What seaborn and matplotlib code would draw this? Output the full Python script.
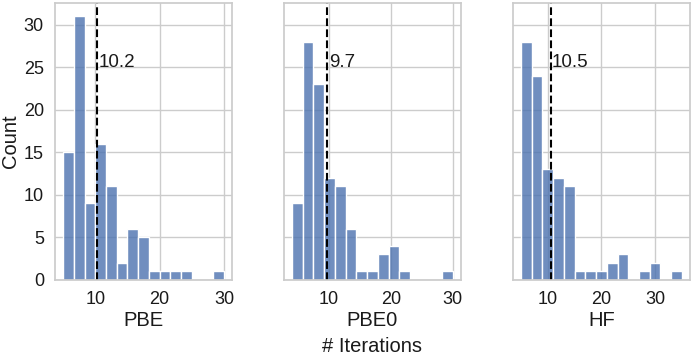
import matplotlib
matplotlib.use("Agg")
import matplotlib.pyplot as plt
import numpy as np
import pandas as pd
import seaborn as sns

# counts per bin (15 bins each)
methods = ["PBE", "PBE0", "HF"]
pbe_counts = [15, 31, 9, 16, 11, 2, 6, 5, 1, 1, 1, 1, 0, 0, 1]
pbe0_counts = [9, 28, 23, 12, 11, 6, 1, 1, 3, 4, 1, 0, 0, 0, 1]
hf_counts = [28, 24, 13, 12, 11, 1, 1, 1, 2, 3, 0, 1, 2, 0, 1]
bin_ranges = [(5, 30), (4, 30), (5, 35)]
means = [10.2, 9.7, 10.5]

sns.set_theme(style="whitegrid")
plt.rcParams["font.family"] = ["Liberation Sans", "DejaVu Sans"]
plt.rcParams["text.color"] = "#1a1a1a"
plt.rcParams["axes.labelcolor"] = "#1a1a1a"
plt.rcParams["xtick.color"] = "#1a1a1a"
plt.rcParams["ytick.color"] = "#1a1a1a"
plt.rcParams["axes.labelsize"] = 14.5
plt.rcParams["xtick.labelsize"] = 13
plt.rcParams["ytick.labelsize"] = 13

fig, axes = plt.subplots(1, 3, sharey=True, figsize=(6.92, 3.56), dpi=100)
fig.subplots_adjust(left=0.0795, right=0.997, top=0.992, bottom=0.2135, wspace=0.294)

all_counts = [pbe_counts, pbe0_counts, hf_counts]
for ax, name, counts, (lo, hi), m in zip(axes, methods, all_counts, bin_ranges, means):
    edges = np.linspace(lo, hi, len(counts) + 1)
    centers = (edges[:-1] + edges[1:]) / 2
    df = pd.DataFrame({"iters": centers, "n": counts})
    sns.histplot(data=df, x="iters", weights="n", bins=len(counts), binrange=(lo, hi),
                 ax=ax, color="#4c72b0", alpha=0.8, edgecolor="white", linewidth=1)
    ax.axvline(m, color="black", linestyle="--", linewidth=1.5)
    ax.text(m + 0.3, 25.6, f"{m}", va="center", ha="left", fontsize=13.5)
    ax.set_xlabel(name, labelpad=2)
    ax.set_xticks([10, 20, 30])
    ax.tick_params(axis="both", pad=2)

axes[0].set_ylabel("Count", labelpad=3)
axes[0].set_yticks([0, 5, 10, 15, 20, 25, 30])
for ax in axes[1:]:
    ax.set_ylabel("")

pos = axes[1].get_position()
fig.text((pos.x0 + pos.x1) / 2, 0.027, "# Iterations", ha="center", va="center", fontsize=14.5)

fig.savefig("out.png", dpi=100)
